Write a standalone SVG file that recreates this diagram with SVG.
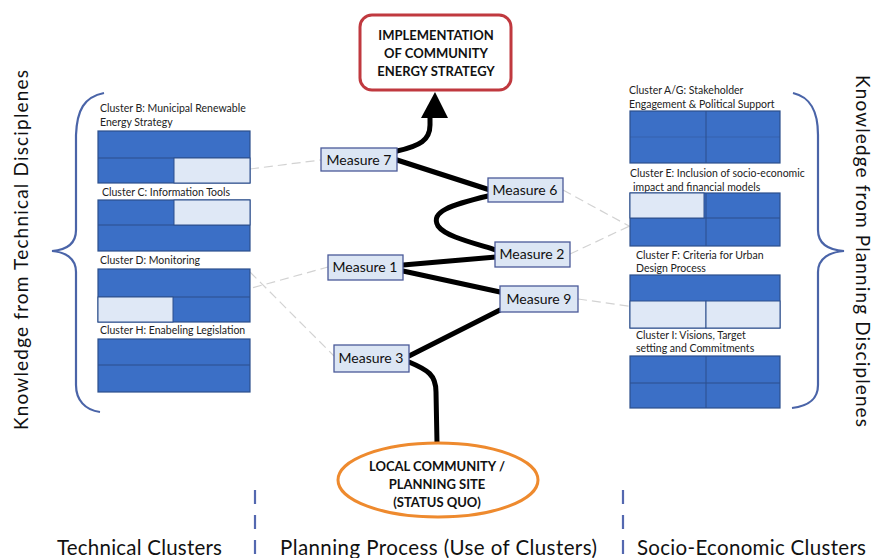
<svg xmlns="http://www.w3.org/2000/svg" width="878" height="558" viewBox="0 0 878 558">
<style>
.lbl{font-family:Lato,"Liberation Sans",sans-serif;font-size:10.5px;fill:#222}
.big{font-family:Lato,"Liberation Sans",sans-serif;font-size:19px;fill:#111}
.bot{font-family:Lato,"Liberation Sans",sans-serif;font-size:20.5px;fill:#111}
.ms{font-family:Lato,"Liberation Sans",sans-serif;font-size:14px;fill:#111;text-anchor:middle}
.bold{font-family:Lato,"Liberation Sans",sans-serif;font-size:13px;font-weight:bold;fill:#111;text-anchor:middle}
.cbox{fill:#3b6fc6;stroke:#2c4f8c;stroke-width:1.2}
.cell{fill:#dfe8f6;stroke:#2c4f8c;stroke-width:1}
.div{stroke:#2c4f8c;stroke-width:1}
.mbox{fill:#dce6f4;stroke:#4a5a99;stroke-width:1.3}
.brace{fill:none;stroke:#4a64a8;stroke-width:2.2}
.thin{fill:none;stroke:#d2d2d2;stroke-width:1.2;stroke-dasharray:9 5}
.path{fill:none;stroke:#000;stroke-width:5;stroke-linecap:round;stroke-linejoin:round}
.sep{stroke:#5468b0;stroke-width:2.2;stroke-dasharray:14 11}
</style>
<rect width="878" height="558" fill="#fff"/>

<!-- braces and side texts -->
<path class="brace" d="M104 93 C84 97 77 110 76 135 L76 230 C76 245 65 250 52 251 C65 252 76 258 76 272 L76 385 C76 400 85 410 100 412"/>
<path class="brace" d="M793 93 C810 97 818 110 818 135 L818 230 C818 245 830 250 844 251 C830 252 818 258 818 272 L818 385 C818 400 808 406 792 408"/>
<text class="big" transform="translate(28,250) rotate(-90)" text-anchor="middle" textLength="360">Knowledge from Technical Disciplenes</text>
<text class="big" transform="translate(856,251) rotate(90)" text-anchor="middle" textLength="352">Knowledge from Planning Disciplenes</text>

<!-- connectors -->
<g id="connectors">
<line class="thin" x1="250" y1="169" x2="321" y2="160"/>
<line class="thin" x1="172" y1="310" x2="328" y2="267"/>
<line class="thin" x1="250" y1="272" x2="334" y2="356"/>
<line class="thin" x1="563" y1="190" x2="640" y2="232"/>
<line class="thin" x1="570" y1="254" x2="668" y2="208"/>
<line class="thin" x1="578" y1="299" x2="700" y2="316"/>
<path class="path" d="M397 160 L490 190"/>
<path class="path" d="M488 196 C450 205 430 212 438 226 C445 236 470 242 496 250"/>
<path class="path" d="M496 257 L403 265"/>
<path class="path" d="M403 271 L500 292"/>
<path class="path" d="M500 310 L409 356"/>
<path class="path" d="M409 362 C428 370 436 375 436 392 L437 443"/>
<path class="path" d="M397 151 C420 146 430 140 430 125 L430 116"/>
<polygon points="435,92 448,118 421,118" fill="#000"/>
</g>

<!-- left clusters -->
<g id="clusterB">
<text class="lbl" x="100" y="112">Cluster B: Municipal Renewable</text>
<text class="lbl" x="100" y="126">Energy Strategy</text>
<rect class="cbox" x="98" y="131" width="152" height="52"/>
<line class="div" x1="98" y1="158" x2="250" y2="158"/>
<rect class="cell" x="174" y="158" width="76" height="25"/>
</g>
<g id="clusterC">
<text class="lbl" x="102" y="196">Cluster C: Information Tools</text>
<rect class="cbox" x="98" y="200" width="152" height="51"/>
<line class="div" x1="98" y1="225" x2="250" y2="225"/>
<rect class="cell" x="174" y="200" width="76" height="25"/>
</g>
<g id="clusterD">
<text class="lbl" x="100" y="264">Cluster D: Monitoring</text>
<rect class="cbox" x="98" y="269" width="152" height="53"/>
<line class="div" x1="98" y1="297" x2="250" y2="297"/>
<rect class="cell" x="98" y="297" width="75" height="25"/>
</g>
<g id="clusterH">
<text class="lbl" x="100" y="334">Cluster H: Enabeling Legislation</text>
<rect class="cbox" x="98" y="339" width="152" height="53"/>
<line class="div" x1="98" y1="365" x2="250" y2="365"/>
</g>

<!-- right clusters -->
<g id="clusterAG">
<text class="lbl" x="629" y="94">Cluster A/G: Stakeholder</text>
<text class="lbl" x="629" y="108">Engagement &amp; Political Support</text>
<rect class="cbox" x="630" y="111" width="150" height="52"/>
<line class="div" x1="706" y1="111" x2="706" y2="163"/>
<line class="div" x1="630" y1="137" x2="780" y2="137" stroke-opacity="0.4"/>
</g>
<g id="clusterE">
<text class="lbl" x="630" y="177">Cluster E: Inclusion of socio-economic</text>
<text class="lbl" x="633" y="191">impact and financial models</text>
<rect class="cbox" x="630" y="193" width="150" height="53"/>
<line class="div" x1="706" y1="193" x2="706" y2="246"/>
<line class="div" x1="630" y1="218" x2="780" y2="218"/>
<rect class="cell" x="630" y="193" width="74" height="25"/>
</g>
<g id="clusterF">
<text class="lbl" x="636" y="259">Cluster F: Criteria for Urban</text>
<text class="lbl" x="636" y="272">Design Process</text>
<rect class="cbox" x="630" y="275" width="150" height="53"/>
<rect class="cell" x="630" y="301" width="76" height="27"/>
<rect class="cell" x="706" y="301" width="74" height="27"/>
</g>
<g id="clusterI">
<text class="lbl" x="636" y="339">Cluster I: Visions, Target</text>
<text class="lbl" x="636" y="352">setting and Commitments</text>
<rect class="cbox" x="630" y="356" width="150" height="52"/>
<line class="div" x1="706" y1="356" x2="706" y2="408"/>
<line class="div" x1="630" y1="383" x2="780" y2="383"/>
</g>

<!-- measures -->
<g id="m7"><rect class="mbox" x="321" y="148" width="76" height="23"/><text class="ms" x="359" y="165">Measure 7</text></g>
<g id="m6"><rect class="mbox" x="488" y="178" width="75" height="24"/><text class="ms" x="525" y="195">Measure 6</text></g>
<g id="m2"><rect class="mbox" x="495" y="242" width="75" height="25"/><text class="ms" x="532" y="259">Measure 2</text></g>
<g id="m1"><rect class="mbox" x="328" y="255" width="75" height="25"/><text class="ms" x="365" y="272">Measure 1</text></g>
<g id="m9"><rect class="mbox" x="500" y="286" width="78" height="26"/><text class="ms" x="539" y="304">Measure 9</text></g>
<g id="m3"><rect class="mbox" x="334" y="345" width="75" height="27"/><text class="ms" x="371" y="363">Measure 3</text></g>

<!-- top goal -->
<g id="goal">
<rect x="360" y="15" width="151" height="75" rx="12" fill="#fff" stroke="#c0393f" stroke-width="3"/>
<text class="bold" x="436" y="40">IMPLEMENTATION</text>
<text class="bold" x="436" y="58">OF COMMUNITY</text>
<text class="bold" x="436" y="76">ENERGY STRATEGY</text>
</g>

<!-- bottom site -->
<g id="site">
<ellipse cx="438" cy="480" rx="100" ry="37" fill="#fff" stroke="#ee8a2e" stroke-width="3"/>
<text class="bold" x="437" y="471">LOCAL COMMUNITY /</text>
<text class="bold" x="437" y="489">PLANNING SITE</text>
<text class="bold" x="437" y="507">(STATUS QUO)</text>
</g>

<!-- separators and bottom labels -->
<line class="sep" x1="255" y1="490" x2="255" y2="558"/>
<line class="sep" x1="623" y1="490" x2="623" y2="558"/>
<text class="bot" x="57" y="555" textLength="165">Technical Clusters</text>
<text class="bot" x="280" y="555" textLength="317">Planning Process (Use of Clusters)</text>
<text class="bot" x="637" y="555" textLength="229">Socio-Economic Clusters</text>
</svg>
